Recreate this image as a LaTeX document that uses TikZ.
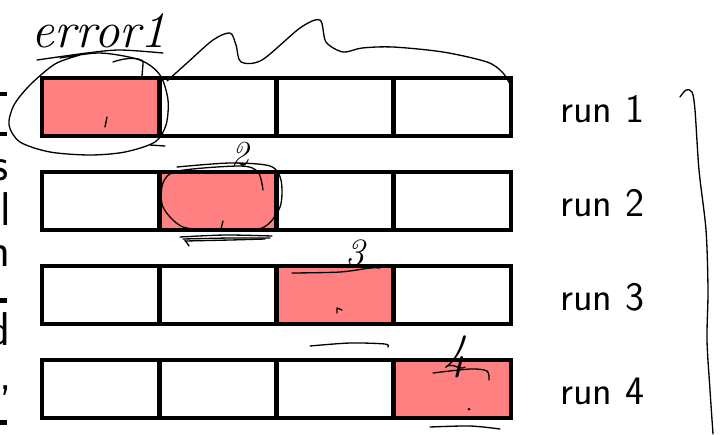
\documentclass[tikz,border=0pt]{standalone}
\usetikzlibrary{positioning}
\definecolor{errred}{RGB}{255,128,128}
\begin{document}
\begin{tikzpicture}[x=0.02cm, y=-0.02cm,
  cell/.style={draw, line width=2.6pt, minimum width=2.345cm, minimum height=1.16cm, inner sep=0pt, outer sep=0pt},
  runlabel/.style={font=\sffamily\fontsize{23}{26}\selectfont, inner sep=0pt},
  ink/.style={line width=0.75pt, line cap=round, line join=round},
  hand/.style={font=\itshape, inner sep=0pt},
  frag/.style={anchor=base east, font=\sffamily\fontsize{27}{30}\selectfont, inner sep=0pt}]
\clip (0,0) rectangle (721,434);
% the runs, one wrong cell each
\foreach \r in {1,...,4} {
  \foreach \c in {1,...,4} {
    \pgfmathsetmacro{\cx}{42+117.25*(\c-0.5)}
    \pgfmathsetmacro{\cy}{78+94*(\r-1)+29}
    \ifnum\r=\c \def\cellfill{errred}\else \def\cellfill{white}\fi
    \node[cell, fill=\cellfill] (c\r\c) at (\cx,\cy) {};
  }
  \node[runlabel, right=0.98cm of c\r4, yshift=-0.04cm] (run\r) {run \r};
}
% cut off text at the left edge
\fill (0,91.5) rectangle (7,96);
\fill (0,131.5) rectangle (7,136);
\fill (0,298) rectangle (7,302.5);
\fill (0,420) rectangle (7,424.5);
\node[frag] (frag-s) at (8.5,180) {s};
\node[frag] (frag-l) at (11,225) {l};
\node[frag] (frag-n) at (11,266) {n};
\node[frag] (frag-d) at (11,345) {d};
\node[frag] (frag-comma) at (12,389) {,};
% ink notes
\node[hand, font=\itshape\fontsize{29}{31}\selectfont] (err1) at (99,31) {error1};
\draw[ink] plot[smooth] coordinates {(37,60) (87,53) (120,50) (163,53)};
\draw[ink] plot[smooth] coordinates {(60,58) (100,53) (140,60) (160,75) (168,100) (166,125) (155,142) (125,152) (90,155) (50,152) (20,142) (9,125) (14,105) (30,85) (55,64) (80,55)};
\draw[ink] (150,145) -- (165,146);
\draw[ink] (113,62) .. controls (130,56) and (145,58) .. (143,64) -- (142,76);
\draw[ink] (107,117) -- (105,127);
\draw[ink] plot[smooth] coordinates {(167,81) (187,63) (213,40) (230,33) (236,45) (241,62) (262,60) (300,28) (320,20) (326,42) (343,52) (362,48) (393,47) (443,52) (487,62) (503,73) (512,88)};
\node[hand, font=\itshape\fontsize{20}{22}\selectfont] (n2) at (240,154) {2};
\draw[ink] plot[smooth] coordinates {(177,167) (230,163) (270,166) (281,180) (280,207) (262,228) (220,229) (183,227) (163,207) (163,183) (178,171) (240,166) (258,172) (263,190)};
\draw[ink] (223,221) -- (221,229);
\draw[ink] plot[smooth] coordinates {(180,237) (225,235) (272,236)};
\draw[ink] plot[smooth] coordinates {(183,239) (230,238) (270,238)};
\draw[ink] plot[smooth] coordinates {(185,241) (230,240) (265,239)};
\draw[ink] (185,240) -- (189,246);
\node[hand, font=\itshape\fontsize{22}{24}\selectfont] (n3) at (355,253) {3};
\draw[ink] plot[smooth] coordinates {(292,273) (340,272) (370,268) (380,268)};
\draw[ink] (337,313) -- (337,308) -- (342,310);
\draw[ink] plot[smooth] coordinates {(310,346) (350,343) (385,344) (388,347)};
\node[hand, font=\itshape\fontsize{28}{30}\selectfont] (n4) at (456,357) {4};
\draw[ink] plot[smooth] coordinates {(433,373) (470,369) (487,371) (489,380)};
\fill (469,409) circle (1.5);
\draw[ink] plot[smooth] coordinates {(430,427) (470,426) (500,429)};
% brace on the right
\draw[ink] plot[smooth] coordinates {(680,97) (686,90) (692,92) (695,110) (699,170) (706,230) (708,290) (707,340) (710,390) (713,434)};
\end{tikzpicture}
\end{document}
